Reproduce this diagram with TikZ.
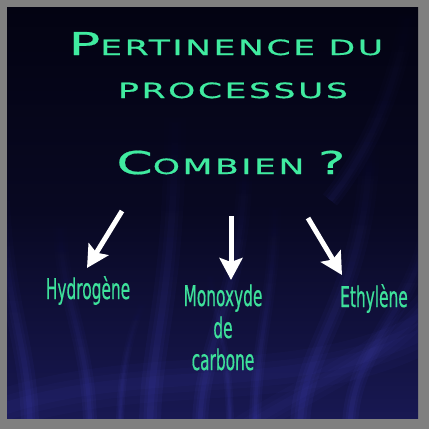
\documentclass[tikz,border=0pt]{standalone}
\usepackage{fontspec}
\usetikzlibrary{arrows.meta,fadings}
\newfontfamily\titlefont{DejaVu Sans}[FakeStretch=1.65,LetterSpace=12,FakeBold=0.6]
\newfontfamily\labelfont{DejaVu Sans}[FakeStretch=0.54,FakeBold=0.4]
\definecolor{frame}{RGB}{128,128,128}
\definecolor{titlegreen}{RGB}{64,235,160}
\definecolor{labelgreen}{RGB}{62,225,155}
\definecolor{bgtop}{RGB}{3,3,18}
\definecolor{bgbot}{RGB}{24,24,82}
\definecolor{streak}{RGB}{70,70,190}
\newcommand{\tbigcap}[1]{{\fontsize{31.5bp}{36bp}\selectfont #1}}
\newcommand{\tsmallcap}[1]{{\fontsize{21bp}{26bp}\selectfont #1}}
\begin{document}
\begin{tikzpicture}[x=1bp,y=-1bp,
  titletext/.style={text=titlegreen,font=\titlefont,inner sep=0pt,anchor=base},
  labeltext/.style={text=labelgreen,font=\labelfont\fontsize{28.5bp}{32bp}\selectfont,inner sep=0pt,align=center},
  bigarrow/.style={draw=white,line width=5bp,-{Stealth[length=22bp,width=23bp,inset=4bp]}},
  streakline/.style={draw=streak,path fading=north}]
\useasboundingbox (0,0) rectangle (429,429);
\fill[frame] (0,0) rectangle (429,429);
\shade[top color=bgtop,bottom color=bgbot,middle color=bgtop!75!bgbot] (7,7) rectangle (418,418);
\begin{scope}
\clip (7,7) rectangle (418,418);
\foreach \a/\b/\c/\d/\w in {
  30/430/0/160/18, 90/430/60/220/14, 150/430/175/110/22,
  200/430/245/150/16, 255/430/275/200/12, 300/430/370/130/20,
  350/430/430/200/16, 120/430/145/300/8, 230/430/210/270/8}{
  \foreach \f/\o in {1/0.10,0.6/0.10,0.3/0.12}{
    \draw[streakline,line width=\f*\w bp,opacity=\o] (\a,\b) .. controls (\a,340) and (\c,300) .. (\c,\d);
  }
}
\foreach \f/\o in {1/0.05,0.6/0.05,0.3/0.06}{
  \draw[draw=streak,line width=\f*40bp,opacity=\o] (0,410) .. controls (150,360) and (300,400) .. (430,330);
  \draw[draw=streak,line width=\f*26bp,opacity=\o] (240,430) .. controls (320,380) and (380,360) .. (430,300);
  \draw[streakline,line width=\f*18bp,opacity=\o] (330,200) .. controls (370,150) and (400,80) .. (410,0);
}
\end{scope}
% title
\node[titletext] (t1) at (226,55) {\tbigcap{P}\tsmallcap{ERTINENCE DU}};
\node[titletext] (t2) at (233,98) {\tsmallcap{PROCESSUS}};
\node[titletext] (t3) at (231,174) {\tbigcap{C}\tsmallcap{OMBIEN }\tbigcap{?}};
% labels
\node[labeltext,anchor=base] (h) at (88,299) {Hydrogène};
\node[labeltext,anchor=base] (m) at (223,370) {Monoxyde\\de\\carbone};
\node[labeltext,anchor=base] (e) at (374,307) {Ethylène};
% arrows
\coordinate (a1s) at (122,211);
\coordinate (a1e) at (87,268);
\coordinate (a2s) at (231,216);
\coordinate (a2e) at (231,280);
\coordinate (a3s) at (308,218);
\coordinate (a3e) at (342,275);
\draw[bigarrow] (a1s) -- (a1e);
\draw[bigarrow] (a2s) -- (a2e);
\draw[bigarrow] (a3s) -- (a3e);
\end{tikzpicture}
\end{document}
